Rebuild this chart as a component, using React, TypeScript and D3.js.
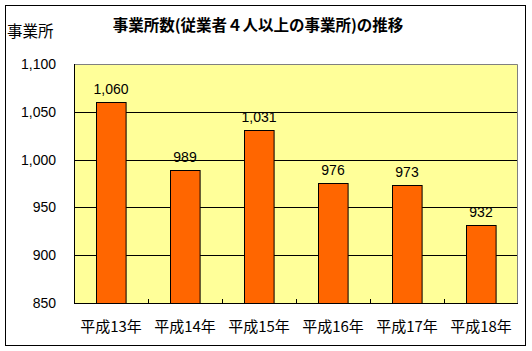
import * as d3 from "d3";
import React, { useEffect, useRef } from "react";

const categories = ["平成13年", "平成14年", "平成15年", "平成16年", "平成17年", "平成18年"];
const counts = [1060, 989, 1031, 976, 973, 932];
const yTicks = [850, 900, 950, 1000, 1050, 1100];

const App: React.FC = () => {
  const svgRef = useRef<SVGSVGElement | null>(null);

  useEffect(() => {
    const width = 532;
    const height = 351;
    const margin = { top: 64, right: 14, bottom: 48, left: 74 };
    const chartWidth = width - margin.left - margin.right;
    const chartHeight = height - margin.top - margin.bottom;

    const svg = d3.select(svgRef.current);
    svg.selectAll("*").remove();
    svg.attr("width", width).attr("height", height);

    const jp = "'Noto Sans CJK JP', sans-serif";
    const num = "'Liberation Sans', Arial, sans-serif";

    // outer frame
    svg
      .append("rect")
      .attr("x", 5.5)
      .attr("y", 5.5)
      .attr("width", 520)
      .attr("height", 340)
      .attr("fill", "white")
      .attr("stroke", "black");

    // title + unit
    svg
      .append("text")
      .attr("x", 258)
      .attr("y", 31)
      .attr("text-anchor", "middle")
      .attr("font-family", jp)
      .attr("font-weight", "bold")
      .attr("font-size", "15.5px")
      .text("事業所数(従業者４人以上の事業所)の推移");

    svg
      .append("text")
      .attr("x", 7)
      .attr("y", 37)
      .attr("font-family", jp)
      .attr("font-size", "15.5px")
      .text("事業所");

    const g = svg.append("g").attr("transform", `translate(${margin.left}, ${margin.top})`);

    const xScale = d3.scaleBand<string>().domain(categories).range([0, chartWidth]).paddingInner(0.6).paddingOuter(0.3);
    const bandScale = d3.scaleBand<string>().domain(categories).range([0, chartWidth]);
    const yScale = d3.scaleLinear().domain([850, 1100]).range([chartHeight, 0]);

    // plot area
    g.append("rect")
      .attr("width", chartWidth)
      .attr("height", chartHeight)
      .attr("fill", "#FFFF99");

    // gridlines
    g.append("g")
      .selectAll("line")
      .data(yTicks.slice(1, -1))
      .enter()
      .append("line")
      .attr("x1", 0)
      .attr("x2", chartWidth)
      .attr("y1", (d) => Math.round(yScale(d)) + 0.5)
      .attr("y2", (d) => Math.round(yScale(d)) + 0.5)
      .attr("stroke", "black");

    // top and right border
    g.append("path")
      .attr("d", `M0,0.5H${chartWidth - 0.5}V${chartHeight}`)
      .attr("fill", "none")
      .attr("stroke", "#808080");

    // bars
    g.selectAll(".bar")
      .data(counts)
      .enter()
      .append("rect")
      .attr("class", "bar")
      .attr("x", (_, i) => Math.round(xScale(categories[i])!) + 0.5)
      .attr("y", (d) => Math.round(yScale(d)) + 0.5)
      .attr("width", xScale.bandwidth())
      .attr("height", (d) => chartHeight - Math.round(yScale(d)))
      .attr("fill", "#FF6600")
      .attr("stroke", "black");

    // value labels
    g.selectAll(".val")
      .data(counts)
      .enter()
      .append("text")
      .attr("class", "val")
      .attr("x", (_, i) => xScale(categories[i])! + xScale.bandwidth() / 2)
      .attr("y", (d) => yScale(d) - 8)
      .attr("text-anchor", "middle")
      .attr("font-family", num)
      .attr("font-size", "14px")
      .text((d) => d3.format(",")(d));

    // x axis
    const xAxis = g.append("g").attr("transform", `translate(0, ${chartHeight})`);
    xAxis
      .append("line")
      .attr("x1", 0)
      .attr("x2", chartWidth)
      .attr("y1", 0.5)
      .attr("y2", 0.5)
      .attr("stroke", "black");
    xAxis
      .selectAll(".tick")
      .data(categories.slice(1))
      .enter()
      .append("line")
      .attr("x1", (d) => Math.round(bandScale(d)!) + 0.5)
      .attr("x2", (d) => Math.round(bandScale(d)!) + 0.5)
      .attr("y1", 0)
      .attr("y2", -4)
      .attr("stroke", "black");
    xAxis
      .selectAll(".lbl")
      .data(categories)
      .enter()
      .append("text")
      .attr("x", (d) => bandScale(d)! + bandScale.bandwidth() / 2)
      .attr("y", 29)
      .attr("text-anchor", "middle")
      .attr("font-family", jp)
      .attr("font-size", "15px")
      .text((d) => d);

    // y axis
    g.append("line")
      .attr("x1", 0.5)
      .attr("x2", 0.5)
      .attr("y1", 0)
      .attr("y2", chartHeight)
      .attr("stroke", "black");
    g.append("g")
      .selectAll("text")
      .data(yTicks)
      .enter()
      .append("text")
      .attr("x", -18)
      .attr("y", (d) => yScale(d) + 5)
      .attr("text-anchor", "end")
      .attr("font-family", num)
      .attr("font-size", "14px")
      .text((d) => d3.format(",")(d));
  }, []);

  return (
    <div style={{ position: "absolute", left: 0, top: 0 }}>
      <svg ref={svgRef}></svg>
    </div>
  );
};

export default App;
